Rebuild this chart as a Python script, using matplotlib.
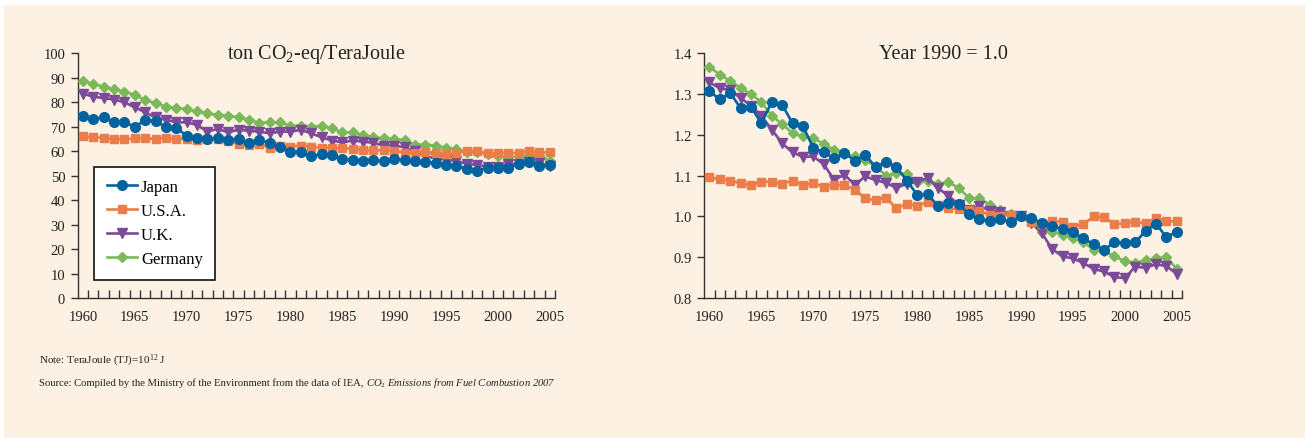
import numpy as np
import matplotlib
matplotlib.use("Agg")
import matplotlib.pyplot as plt
from matplotlib.patches import Rectangle
from matplotlib.ticker import MultipleLocator, FormatStrFormatter

plt.rcParams["font.family"] = ["Liberation Serif", "DejaVu Serif"]
plt.rcParams["mathtext.fontset"] = "custom"
plt.rcParams["mathtext.rm"] = "Liberation Serif"
plt.rcParams["mathtext.it"] = "Liberation Serif:italic"

years = list(range(1960, 2006))

# left panel: ton CO2-eq / TJ
japan_abs = [74.2, 73.2, 73.8, 71.8, 72.1, 69.8, 72.8, 72.3, 69.8, 69.5,
             66.3, 65.5, 64.9, 65.5, 64.6, 65.1, 63.4, 64.6, 63.4, 61.6,
             59.8, 59.8, 58.0, 58.7, 58.3, 56.9, 56.3, 55.9, 56.3, 55.9,
             56.8, 56.4, 55.9, 55.4, 55.2, 54.5, 53.8, 52.9, 52.0, 53.3,
             53.1, 53.3, 54.8, 55.6, 54.0, 54.5]
usa_abs = [66.0, 65.7, 65.5, 65.1, 64.8, 65.3, 65.3, 65.0, 65.5, 64.8,
           65.1, 64.6, 64.9, 64.8, 64.2, 62.8, 62.6, 63.0, 61.4, 62.1,
           61.8, 62.3, 61.9, 61.4, 61.3, 61.2, 61.0, 60.4, 60.3, 60.4,
           60.2, 59.4, 59.1, 59.6, 59.4, 58.7, 59.1, 60.2, 60.1, 59.1,
           59.2, 59.4, 59.2, 60.0, 59.5, 59.5]
uk_abs = [83.5, 82.3, 81.7, 81.1, 80.0, 77.9, 75.9, 73.8, 72.8, 71.8,
          71.8, 70.7, 68.0, 69.1, 67.7, 68.8, 68.3, 68.0, 67.3, 68.0,
          68.0, 68.7, 67.3, 65.7, 64.3, 63.6, 64.3, 63.9, 63.4, 62.3,
          62.3, 61.6, 59.9, 57.9, 57.1, 56.5, 56.0, 54.8, 54.4, 53.7,
          53.7, 54.8, 54.8, 55.4, 55.2, 53.8]
germany_abs = [88.8, 87.5, 86.4, 85.4, 84.3, 83.0, 80.9, 79.7, 78.2, 77.7,
               77.2, 76.3, 75.5, 74.8, 74.5, 73.8, 72.9, 71.5, 71.8, 71.8,
               70.4, 70.4, 70.0, 70.4, 69.3, 67.7, 67.7, 66.6, 65.7, 65.3,
               65.0, 64.6, 62.7, 62.7, 62.3, 61.4, 60.9, 59.8, 59.5, 58.9,
               57.9, 57.5, 57.9, 58.2, 58.4, 56.1]

# right panel: index, 1990 = 1.0
japan_idx = [1.307, 1.287, 1.303, 1.265, 1.269, 1.228, 1.281, 1.274, 1.228, 1.221,
             1.168, 1.157, 1.143, 1.156, 1.136, 1.151, 1.121, 1.134, 1.121, 1.088,
             1.053, 1.054, 1.026, 1.032, 1.030, 1.005, 0.993, 0.989, 0.994, 0.986,
             1.000, 0.997, 0.983, 0.976, 0.969, 0.961, 0.946, 0.932, 0.918, 0.937,
             0.934, 0.937, 0.964, 0.982, 0.949, 0.963]
usa_idx = [1.096, 1.091, 1.088, 1.081, 1.077, 1.085, 1.085, 1.080, 1.088, 1.077,
           1.081, 1.073, 1.078, 1.076, 1.066, 1.044, 1.040, 1.046, 1.020, 1.031,
           1.026, 1.035, 1.029, 1.020, 1.018, 1.017, 1.013, 1.004, 1.002, 1.004,
           1.000, 0.987, 0.982, 0.990, 0.986, 0.975, 0.981, 1.000, 0.998, 0.981,
           0.983, 0.987, 0.983, 0.996, 0.988, 0.988]
uk_idx = [1.329, 1.314, 1.310, 1.290, 1.272, 1.246, 1.213, 1.179, 1.157, 1.146,
          1.147, 1.128, 1.090, 1.102, 1.078, 1.098, 1.089, 1.082, 1.070, 1.080,
          1.085, 1.094, 1.069, 1.051, 1.028, 1.017, 1.026, 1.014, 1.010, 1.000,
          1.000, 0.984, 0.959, 0.920, 0.902, 0.897, 0.886, 0.871, 0.865, 0.851,
          0.849, 0.877, 0.874, 0.883, 0.878, 0.859]
germany_idx = [1.366, 1.348, 1.332, 1.315, 1.300, 1.280, 1.247, 1.226, 1.204, 1.196,
               1.192, 1.178, 1.163, 1.152, 1.148, 1.138, 1.123, 1.100, 1.106, 1.104,
               1.084, 1.088, 1.080, 1.084, 1.070, 1.045, 1.044, 1.029, 1.015, 1.006,
               1.000, 0.990, 0.963, 0.963, 0.955, 0.946, 0.937, 0.918, 0.915, 0.902,
               0.890, 0.887, 0.892, 0.897, 0.900, 0.871]

names = ["Japan", "U.S.A.", "U.K.", "Germany"]
colors = ["#0063A0", "#EB7D4B", "#7B4A98", "#7AB85A"]
markers = ["o", "s", "v", "D"]
msizes = [7, 6, 6.5, 5]

W, H = 1305, 439
fig = plt.figure(figsize=(W / 100, H / 100), dpi=100)
fig.patches.append(Rectangle((4 / W, 0), 1, (H - 6) / H, transform=fig.transFigure,
                             facecolor="#FDF1E3", edgecolor="none", zorder=-10))

ax1 = fig.add_axes([77.7 / W, 1 - 299 / H, 477.3 / W, 244.7 / H])
ax2 = fig.add_axes([704.3 / W, 1 - 299 / H, 477.7 / W, 244.7 / H])

left_series = [japan_abs, usa_abs, uk_abs, germany_abs]
right_series = [japan_idx, usa_idx, uk_idx, germany_idx]

for ax, series in [(ax1, left_series), (ax2, right_series)]:
    ax.set_facecolor("none")
    handles = []
    for i in range(4):
        ln, = ax.plot(years, series[i], color=colors[i], marker=markers[i],
                      markersize=msizes[i], lw=1.9, label=names[i], zorder=10 - i)
        handles.append(ln)
    for side in ["top", "right"]:
        ax.spines[side].set_visible(False)
    for side in ["left", "bottom"]:
        ax.spines[side].set_color("#333333")
        ax.spines[side].set_linewidth(1)
    ax.set_xlim(1959.5, 2005.5)
    ax.set_xticks(range(1960, 2006, 5))
    ax.set_xticks(np.arange(1960.5, 2006, 1), minor=True)
    ax.tick_params(axis="x", which="major", length=0, labelsize=10.5, pad=9, colors="#222222")
    ax.tick_params(axis="x", which="minor", direction="in", length=6, width=1, color="#333333")
    ax.tick_params(axis="y", direction="out", length=5, width=1, labelsize=10.5,
                   color="#333333", labelcolor="#222222", pad=4)

ax1.set_ylim(0, 100)
ax1.yaxis.set_major_locator(MultipleLocator(10))
ax2.set_ylim(0.8, 1.4)
ax2.yaxis.set_major_locator(MultipleLocator(0.1))
ax2.yaxis.set_major_formatter(FormatStrFormatter("%.1f"))

ax1.text(0.5, 0.981, "ton CO$_2$-eq/TeraJoule", transform=ax1.transAxes, ha="center",
         va="baseline", fontsize=14.5, color="#222222")
ax2.text(0.5, 0.981, "Year 1990 = 1.0", transform=ax2.transAxes, ha="center",
         va="baseline", fontsize=14.5, color="#222222")

leg = ax1.legend(handles=handles, loc="lower left", bbox_to_anchor=(0.035, 0.075),
                 borderaxespad=0, fontsize=12, frameon=True, fancybox=False,
                 handlelength=1.8, borderpad=0.75, labelspacing=0.48, handletextpad=0.25)
leg.get_frame().set_edgecolor("#111111")
leg.get_frame().set_linewidth(1.2)
leg.get_frame().set_facecolor("white")
leg.get_frame().set_alpha(1)

fig.text(39 / W, 1 - 364 / H, "Note: TeraJoule (TJ)=10$^{12}$ J", fontsize=8,
         va="baseline", color="#222222")
src = fig.text(39 / W, 1 - 386.5 / H,
               "Source: Compiled by the Ministry of the Environment from the data of IEA, ",
               fontsize=7.7, va="baseline", color="#222222")
fig.canvas.draw()
bb = src.get_window_extent()
fig.text(bb.x1 / W, 1 - 386.5 / H,
         r"$\mathit{CO_2}$ Emissions from Fuel Combustion 2007",
         fontsize=7.7, va="baseline", style="italic", color="#222222")

fig.savefig("out.png", dpi=100)
